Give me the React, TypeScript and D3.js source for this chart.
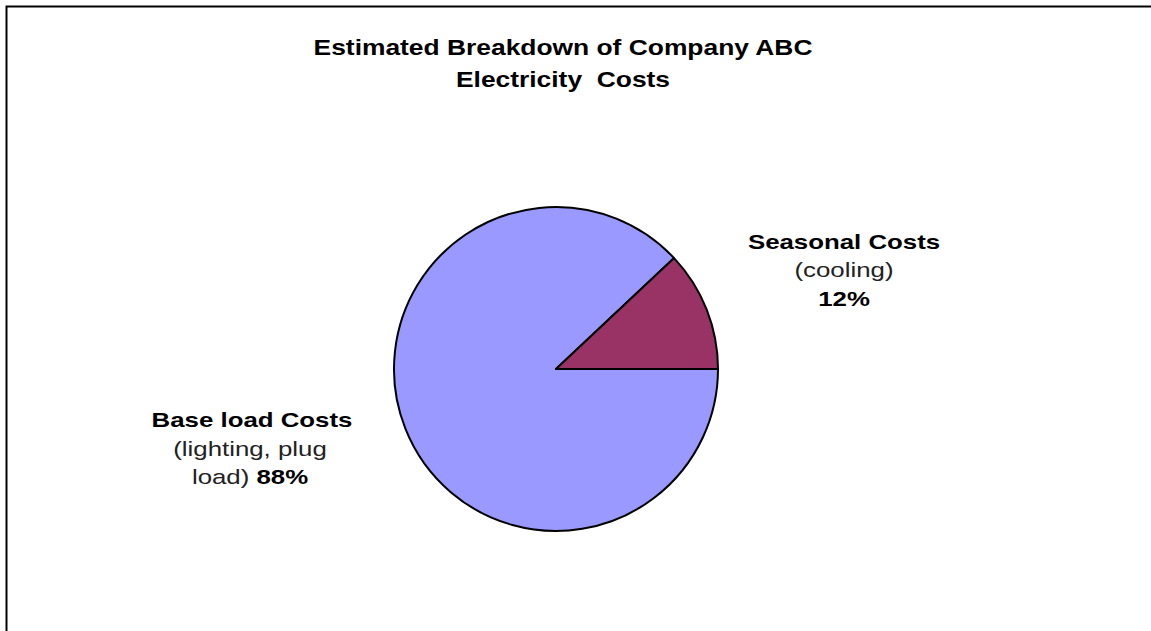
import React from "react";
import * as d3 from "d3";

const categories = ["Base load Costs", "Seasonal Costs"];
const values = [88, 12];
const colors = ["#9999FF", "#993366"];
const titleLines = ["Estimated Breakdown of Company ABC", "Electricity  Costs"];

function T({ x, y, sx, children, ...rest }: any) {
  return (
    <text transform={`translate(${x},${y}) scale(${sx},1)`} textAnchor="middle" style={{ whiteSpace: "pre" }} {...rest}>
      {children}
    </text>
  );
}

export default function App() {
  const W = 1151, H = 631;
  const cx = 556, cy = 369, r = 162;
  const pie = d3.pie<number>().sort(null).startAngle(Math.PI / 2).endAngle(Math.PI / 2 + 2 * Math.PI);
  const arcs = pie(values);
  const arc = d3.arc<d3.PieArcDatum<number>>().innerRadius(0).outerRadius(r);
  const font = "'Liberation Sans', Arial, sans-serif";
  const sxT = 1.2, sxL = 1.23;
  return (
    <svg width={W} height={H} style={{ position: "fixed", left: 0, top: 0, background: "#fff" }} fontFamily={font}>
      <rect x={6.5} y={6.5} width={W + 10} height={H + 10} fill="none" stroke="#000" strokeWidth={2} />
      <T x={563} y={55} sx={sxT} fontSize={22} fontWeight="bold">{titleLines[0]}</T>
      <T x={563} y={87} sx={sxT} fontSize={22} fontWeight="bold">{titleLines[1]}</T>
      <g transform={`translate(${cx},${cy})`}>
        {arcs.map((a, i) => (
          <path key={i} d={arc(a) || ""} fill={colors[i]} stroke="#000" strokeWidth={2} strokeLinejoin="round" />
        ))}
      </g>
      <g fontSize={21}>
        <T x={844} y={249} sx={sxL} fontWeight="bold">{categories[1]}</T>
        <T x={844} y={277} sx={sxL} fill="#222">(cooling)</T>
        <T x={844} y={306} sx={sxL} fontWeight="bold">{values[1]}%</T>
        <T x={252} y={427} sx={sxL} fontWeight="bold">{categories[0]}</T>
        <T x={250} y={456} sx={sxL} fill="#222">(lighting, plug</T>
        <T x={250} y={484} sx={sxL}><tspan fill="#222">load) </tspan><tspan fontWeight="bold">{values[0]}%</tspan></T>
      </g>
    </svg>
  );
}
